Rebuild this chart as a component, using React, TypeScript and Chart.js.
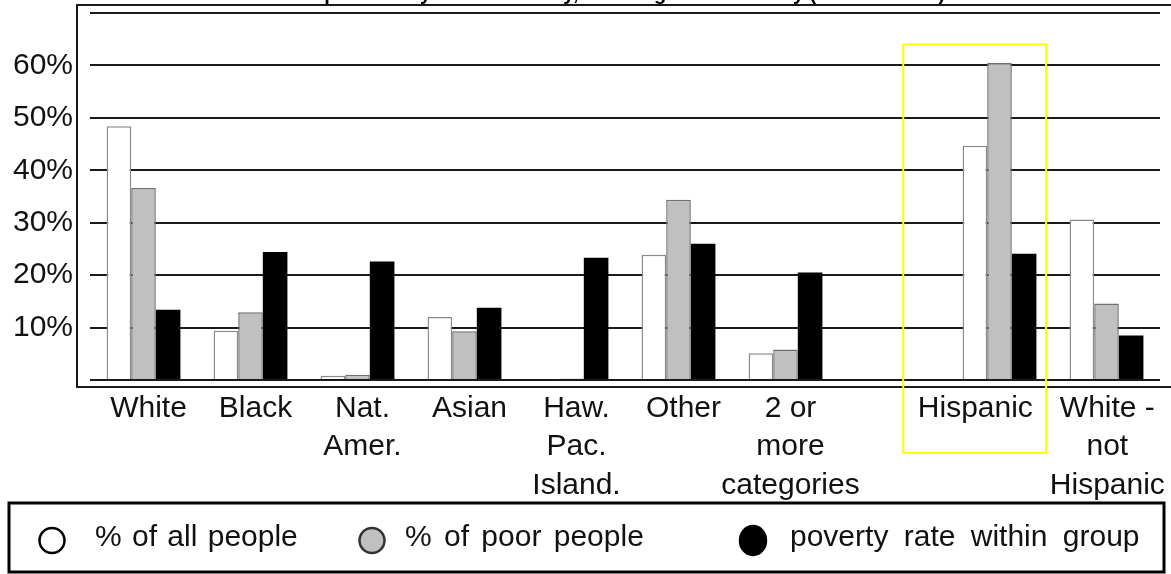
import React, { useEffect, useRef } from 'react';
import { Chart, registerables } from 'chart.js';

Chart.register(...registerables);

const categories: (string | string[])[] = [
  'White',
  'Black',
  ['Nat.', 'Amer.'],
  'Asian',
  ['Haw.', 'Pac.', 'Island.'],
  'Other',
  ['2 or', 'more', 'categories'],
  '',
  'Hispanic\u00a0\u00a0\u00a0\u00a0\u00a0\u00a0\u00a0',
  ['White -\u00a0', 'not\u00a0', 'Hispanic\u00a0'],
];

const allPeople = [48.4, 9.4, 0.8, 12.0, 0.2, 23.9, 5.1, null, 44.7, 30.6];
const poorPeople = [36.6, 12.9, 1.0, 9.3, 0.3, 34.4, 5.8, null, 60.5, 14.6];
const povertyRate = [13.4, 24.4, 22.6, 13.8, 23.3, 26.0, 20.5, null, 24.1, 8.5];

const seriesNames = ['% of all people', '% of poor people', 'poverty rate within group'];
const yTickLabels = [10, 20, 30, 40, 50, 60];
const titleText = 'Population by Race/Ethnicity, and Origin and Poverty (Census 2000)';

// highlighted region around the Hispanic group (category index units / value units)
const highlight = { from: 7.1, to: 8.435, top: 64, bottom: -13.9 };

const FONT = '"Liberation Sans", Arial, Helvetica, sans-serif';

const framePlugin = {
  id: 'frame',
  afterDraw(chart: any) {
    const { ctx, chartArea: a, width } = chart;
    ctx.save();
    ctx.strokeStyle = '#1a1a1a';
    ctx.lineWidth = 2;
    const left = a.left - 13;
    const top = a.top - 8;
    const bottom = a.bottom + 7;
    ctx.beginPath();
    ctx.moveTo(width, top);
    ctx.lineTo(left, top);
    ctx.lineTo(left, bottom);
    ctx.lineTo(width, bottom);
    ctx.stroke();
    ctx.font = `bold 20px ${FONT}`;
    ctx.fillStyle = '#000';
    ctx.textAlign = 'center';
    ctx.textBaseline = 'alphabetic';
    ctx.fillText(titleText, (a.left + a.right) / 2 - 3, top - 5);
    ctx.restore();
  },
};

const highlightPlugin = {
  id: 'highlight',
  afterDraw(chart: any) {
    const { ctx } = chart;
    const xs = chart.scales.x;
    const ys = chart.scales.y;
    const x0 = xs.getPixelForValue(highlight.from);
    const x1 = xs.getPixelForValue(highlight.to);
    const y0 = ys.getPixelForValue(highlight.top);
    const y1 = ys.getPixelForValue(highlight.bottom);
    ctx.save();
    ctx.strokeStyle = '#ffff00';
    ctx.lineWidth = 2;
    ctx.strokeRect(x0, y0, x1 - x0, y1 - y0);
    ctx.restore();
  },
};

const legendPlugin = {
  id: 'boxLegend',
  afterDraw(chart: any) {
    const { ctx, width } = chart;
    const box = { left: 9, top: 503, right: width - 7, bottom: 572 };
    ctx.save();
    ctx.strokeStyle = '#000';
    ctx.lineWidth = 3;
    ctx.strokeRect(box.left, box.top, box.right - box.left, box.bottom - box.top);
    const markerX = [52, 372, 753];
    const textX = [95, 405, 790];
    const spacing = ['2px', '4px', '7px'];
    const cy = (box.top + box.bottom) / 2 + 2;
    chart.data.datasets.forEach((ds: any, i: number) => {
      ctx.beginPath();
      if (i === 2) {
        ctx.ellipse(markerX[i], cy + 1, 13, 14.5, 0, 0, Math.PI * 2);
      } else {
        ctx.arc(markerX[i], cy + 1, 12.5, 0, Math.PI * 2);
      }
      ctx.fillStyle = ds.backgroundColor;
      ctx.fill();
      ctx.lineWidth = 2.5;
      ctx.strokeStyle = i === 1 ? '#333' : '#000';
      ctx.stroke();
      ctx.font = `30px ${FONT}`;
      ctx.fillStyle = '#111';
      ctx.textAlign = 'left';
      ctx.textBaseline = 'middle';
      try {
        (ctx as any).wordSpacing = spacing[i];
      } catch (e) {
        /* ignore */
      }
      ctx.fillText(ds.label, textX[i], cy - 2);
    });
    ctx.restore();
  },
};

export default function App() {
  const ref = useRef<HTMLCanvasElement | null>(null);

  useEffect(() => {
    if (!ref.current) return;
    Chart.defaults.font.family = FONT;
    const chart = new Chart(ref.current, {
      type: 'bar',
      data: {
        labels: categories as any,
        datasets: [
          {
            label: seriesNames[0],
            data: allPeople as any,
            backgroundColor: '#ffffff',
            borderColor: '#8a8a8a',
            borderWidth: 1.5,
          },
          {
            label: seriesNames[1],
            data: poorPeople as any,
            backgroundColor: '#c0c0c0',
            borderColor: '#707070',
            borderWidth: 1.5,
          },
          {
            label: seriesNames[2],
            data: povertyRate as any,
            backgroundColor: '#000000',
            borderColor: '#000000',
            borderWidth: 0,
          },
        ],
      },
      options: {
        responsive: false,
        animation: false,
        layout: { padding: { left: 0, right: 11, top: 13, bottom: 0 } },
        datasets: { bar: { categoryPercentage: 0.69, barPercentage: 1 } },
        plugins: {
          legend: { display: false },
          tooltip: { enabled: false },
          title: { display: false },
        },
        scales: {
          x: {
            grid: { display: false, drawTicks: false },
            border: { display: false },
            ticks: {
              color: '#111',
              font: { size: 30, lineHeight: 1.29 },
              padding: 9,
              labelOffset: 5,
              maxRotation: 0,
              minRotation: 0,
              autoSkip: false,
            },
            afterFit: (s: any) => {
              s.height = 194;
              s.paddingLeft = 0;
              s.paddingRight = 0;
            },
          },
          y: {
            min: 0,
            max: 70,
            grid: { color: '#1a1a1a', lineWidth: 2, drawTicks: false },
            border: { display: false },
            ticks: {
              stepSize: 10,
              padding: 17,
              color: '#111',
              font: { size: 30 },
              callback: (v: any) => (yTickLabels.includes(Number(v)) ? `${v}%` : ''),
            },
            afterFit: (s: any) => {
              s.width = 90;
              s.paddingTop = 0;
              s.paddingBottom = 0;
            },
          },
        },
      },
      plugins: [framePlugin, highlightPlugin, legendPlugin],
    });
    return () => chart.destroy();
  }, []);

  return (
    <canvas
      ref={ref}
      width={1171}
      height={574}
      style={{ position: 'absolute', left: 0, top: 0, background: '#fff' }}
    />
  );
}
